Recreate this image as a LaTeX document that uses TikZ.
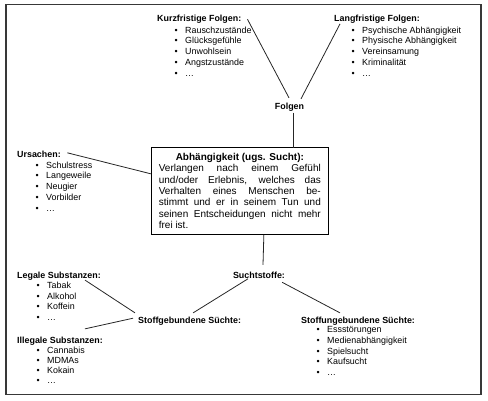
\documentclass[tikz,border=0pt]{standalone}
\usepackage{fontspec}
\setmainfont{Liberation Sans}
\usepackage{array}
\newcolumntype{B}{>{\textbullet\hspace{7.5pt}}l}
\begin{document}
\begin{tikzpicture}[x=1pt,y=-1pt,
  txt/.style={inner sep=0pt,anchor=base west,font=\fontsize{8.9}{10.8}\selectfont},
  head/.style={txt,font=\fontsize{8.9}{10.8}\selectfont\bfseries},
  lst/.style={txt},
  conn/.style={draw=black!85,line width=0.8pt},
  frame/.style={draw=black!78,line width=1.8pt}]
\useasboundingbox (0,0) rectangle (488,400);
\draw[frame] (6,4.5) rectangle (481,394.5);

% headers
\node[head] (kurz) at (157,21.5) {Kurzfristige Folgen:};
\node[head] (lang) at (334,21.8) {Langfristige Folgen:};
\node[head,anchor=base] (folgen) at (289.5,109.5) {Folgen};
\node[head] (urs) at (17,157.5) {Ursachen:};
\node[head,anchor=base] (sucht) at (259,278.5) {Suchtstoffe:};
\node[head] (stoffgeb) at (138,323.5) {Stoffgebundene Süchte:};
\node[head] (legal) at (17,278) {Legale Substanzen:};
\node[head] (illegal) at (17,343.5) {Illegale Substanzen:};
\node[head] (stoffunge) at (301,323.5) {Stoffungebundene Süchte:};

% lists
\node[lst] (kurzlist) at (174.4,33) {\begin{tabular}[t]{@{}B@{}}Rauschzustände\\Glücksgefühle\\Unwohlsein\\Angstzustände\\…\end{tabular}};
\node[lst] (langlist) at (351.4,33) {\begin{tabular}[t]{@{}B@{}}Psychische Abhängigkeit\\Physische Abhängigkeit\\Vereinsamung\\Kriminalität\\…\end{tabular}};
\node[lst] (urslist) at (35.4,168) {\begin{tabular}[t]{@{}B@{}}Schulstress\\Langeweile\\Neugier\\Vorbilder\\…\end{tabular}};
\node[lst,font=\fontsize{8.9}{10.5}\selectfont] (legallist) at (36.4,288.5) {\begin{tabular}[t]{@{}B@{}}Tabak\\Alkohol\\Koffein\\…\end{tabular}};
\node[lst,font=\fontsize{8.9}{10.2}\selectfont] (illegallist) at (36.4,353) {\begin{tabular}[t]{@{}B@{}}Cannabis\\MDMAs\\Kokain\\…\end{tabular}};
\node[lst] (unglist) at (316.4,332.5) {\begin{tabular}[t]{@{}B@{}}Essstörungen\\Medienabhängigkeit\\Spielsucht\\Kaufsucht\\…\end{tabular}};

% central box
\node[draw=black,line width=1pt,anchor=north west,minimum width=176.7pt,minimum height=87.3pt,inner xsep=6pt,inner ysep=0pt,font=\fontsize{10}{11.3}\selectfont] (box) at (151,146.7) {\parbox{162pt}{\hyphenpenalty=10000\tolerance=10000
{\centering\bfseries Abhängigkeit (ugs. Sucht):\par}
Verlangen nach einem Gefühl\linebreak und/oder Erlebnis, welches das\linebreak Verhalten eines Menschen be-\linebreak stimmt und er in seinem Tun und\linebreak seinen Entscheidungen nicht mehr\linebreak frei ist.}};

% connectors
\draw[conn] ([xshift=6pt]kurz.east) -- ([xshift=-0.5pt,yshift=5pt]folgen.north);
\draw[conn] ([xshift=6pt]lang.south west) -- ([xshift=11.5pt,yshift=4pt]folgen.north);
\draw[conn] ([xshift=3.5pt,yshift=-1pt]folgen.south) -- ([xshift=3.5pt,yshift=-1pt]folgen.south |- box.north);
\draw[conn] ([xshift=6.5pt,yshift=1.5pt]urs.east) -- ([yshift=17pt]box.west);
\draw[conn] ([xshift=24pt]box.south) -- ([xshift=4pt,yshift=7pt]sucht.north);
\draw[conn] ([xshift=-11pt]sucht.south) -- ([xshift=3.5pt,yshift=4pt]stoffgeb.north);
\draw[conn] ([xshift=-3pt,yshift=-3.5pt]sucht.south east) -- ([xshift=39pt,yshift=4pt]stoffunge.north west);
\draw[conn] ([xshift=-16pt]legal.south east) -- ([xshift=-3pt,yshift=4pt]stoffgeb.north west);
\draw[conn] ([xshift=-18pt,yshift=8pt]illegal.north east) -- ([xshift=-5pt,yshift=3pt]stoffgeb.west);
\end{tikzpicture}
\end{document}
